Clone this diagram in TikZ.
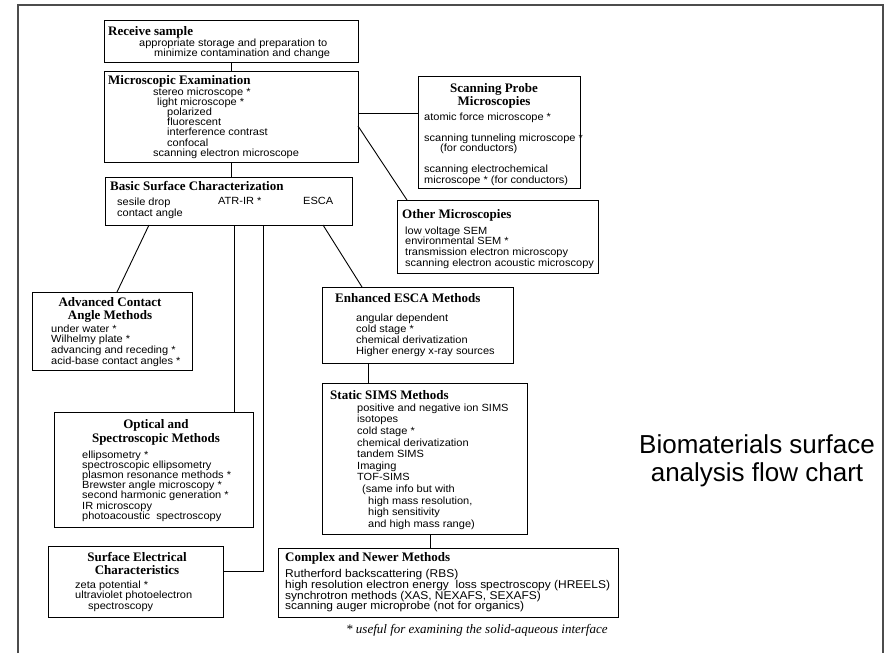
\documentclass[tikz,border=0pt]{standalone}
\usepackage{fontspec}
\setmainfont{Liberation Serif}
\newfontfamily\bodyfont{Liberation Sans}[FakeStretch=1.06]
\newfontfamily\bigfont{Liberation Sans}

\begin{document}
\begin{tikzpicture}[x=1pt,y=-1pt,
  box/.style={draw,line width=1pt,anchor=north west,inner sep=0pt,outer sep=0pt},
  hd/.style={anchor=north west,inner sep=0pt,font=\bfseries\fontsize{13}{12}\selectfont},
  hdc/.style={anchor=north,inner sep=0pt,align=center,font=\bfseries\fontsize{13}{12.5}\selectfont},
  txt/.style={anchor=north west,inner sep=0pt,align=left,font=\bodyfont\fontsize{10.4}{10.4}\selectfont},
  link/.style={line width=0.9pt}]
\useasboundingbox (0,0) rectangle (888,653);
\draw[gray!60!black,line width=1.5pt] (18,653) |- (883,5) -- (883,653);
% boxes
\node[box,minimum width=254pt,minimum height=42pt] (rs) at (104,20) {};
\node[box,minimum width=254pt,minimum height=91pt] (me) at (104,71) {};
\node[box,minimum width=247pt,minimum height=48pt] (bsc) at (105,177) {};
\node[box,minimum width=162pt,minimum height=112pt] (spm) at (418,76) {};
\node[box,minimum width=201pt,minimum height=73pt] (om) at (397,200) {};
\node[box,minimum width=160pt,minimum height=78pt] (aca) at (32,292) {};
\node[box,minimum width=191pt,minimum height=76pt] (ee) at (322,287) {};
\node[box,minimum width=205pt,minimum height=151pt] (ss) at (322,383) {};
\node[box,minimum width=199pt,minimum height=115pt] (osm) at (54,412) {};
\node[box,minimum width=175pt,minimum height=71pt] (sec) at (48,546) {};
\node[box,minimum width=340pt,minimum height=69pt] (cnm) at (278,548) {};
% texts
\node[hd] (rs-t) at (108,26.4) {Receive sample};
\node[txt,font=\bodyfont\fontsize{10.4}{10}\selectfont] (rs-b) at (139,38.5)
  {appropriate storage and preparation to\\\hspace{15pt}minimize contamination and change};
\node[hd] (me-t) at (108,75.4) {Microscopic Examination};
\node[txt,font=\bodyfont\fontsize{10.4}{10.17}\selectfont] (me-b) at (153,87.5)
  {stereo microscope *\\\hspace{4pt}light microscope *\\\hspace{14pt}polarized\\
   \hspace{14pt}fluorescent\\\hspace{14pt}interference contrast\\\hspace{14pt}confocal\\
   scanning electron microscope};
\node[hd] (bsc-t) at (110,181.4) {Basic Surface Characterization};
\node[txt,font=\bodyfont\fontsize{10.4}{11}\selectfont] (bsc-a) at (117,197.5) {sesile drop\\contact angle};
\node[txt] (bsc-b) at (218,197.5) {ATR-IR *};
\node[txt] (bsc-c) at (303,197.5) {ESCA};
\node[hdc] (spm-t) at (494,83.4) {Scanning Probe\\Microscopies};
\node[txt,font=\bodyfont\fontsize{10.4}{10.5}\selectfont] (spm-b) at (424,112.5)
  {atomic force microscope *\\[10.5pt]scanning tunneling microscope *\\\hspace{16pt}(for conductors)\\[10.5pt]
   scanning electrochemical\\microscope * (for conductors)};
\node[hd] (om-t) at (402,209.4) {Other Microscopies};
\node[txt,font=\bodyfont\fontsize{10.4}{10.7}\selectfont] (om-b) at (405,226.5)
  {low voltage SEM\\environmental SEM *\\transmission electron microscopy\\scanning electron acoustic microscopy};
\node[hdc] (aca-t) at (110,297.4) {Advanced Contact\\Angle Methods};
\node[txt,font=\bodyfont\fontsize{10.4}{10.7}\selectfont] (aca-b) at (51,324.5)
  {under water *\\Wilhelmy plate *\\advancing and receding *\\acid-base contact angles *};
\node[hd] (ee-t) at (335,293.4) {Enhanced ESCA Methods};
\node[txt,font=\bodyfont\fontsize{10.4}{11}\selectfont] (ee-b) at (356,313.5)
  {angular dependent\\cold stage *\\chemical derivatization\\Higher energy x-ray sources};
\node[hd] (ss-t) at (330,390.4) {Static SIMS Methods};
\node[txt,font=\bodyfont\fontsize{10.4}{11.6}\selectfont] (ss-b) at (357,403.5)
  {positive and negative ion SIMS\\isotopes\\cold stage *\\chemical derivatization\\tandem SIMS\\
   Imaging\\TOF-SIMS\\\hspace{5pt}(same info but with\\\hspace{11pt}high mass resolution,\\
   \hspace{11pt}high sensitivity\\\hspace{11pt}and high mass range)};
\node[hdc,font=\bfseries\fontsize{13}{14}\selectfont] (osm-t) at (156,419.4) {Optical and\\Spectroscopic Methods};
\node[txt,font=\bodyfont\fontsize{10.4}{10.17}\selectfont] (osm-b) at (82,450.5)
  {ellipsometry *\\spectroscopic ellipsometry\\plasmon resonance methods *\\Brewster angle microscopy *\\
   second harmonic generation *\\IR microscopy\\photoacoustic\ \ spectroscopy};
\node[hdc,font=\bfseries\fontsize{13}{13}\selectfont] (sec-t) at (137,552.4) {Surface Electrical\\Characteristics};
\node[txt,font=\bodyfont\fontsize{10.4}{10.5}\selectfont] (sec-b) at (75,580.5)
  {zeta potential *\\ultraviolet photoelectron\\\hspace{13pt}spectroscopy};
\node[hd] (cnm-t) at (285,552.4) {Complex and Newer Methods};
\node[txt,font=\bodyfont\fontsize{11.3}{10.6}\selectfont] (cnm-b) at (285,569.5)
  {Rutherford backscattering (RBS)\\high resolution electron energy\ \ loss spectroscopy (HREELS)\\
   synchrotron methods (XAS, NEXAFS, SEXAFS)\\scanning auger microprobe (not for organics)};
\node[anchor=west,inner sep=0pt,font=\itshape\fontsize{13}{14}\selectfont] (note) at (346,630)
  {* useful for examining the solid-aqueous interface};
\node[align=center,inner sep=0pt,font=\bigfont\fontsize{26}{28}\selectfont] (title) at (757,461)
  {Biomaterials surface\\analysis flow chart};
% connectors
\coordinate (spm-in) at ([yshift=-37pt]spm.north west);
\coordinate (bsc-1) at ([xshift=44pt]bsc.south west);
\coordinate (bsc-2) at ([xshift=129pt]bsc.south west);
\coordinate (bsc-3) at ([xshift=158pt]bsc.south west);
\coordinate (bsc-4) at ([xshift=218pt]bsc.south west);
\coordinate (ee-out) at ([xshift=46pt]ee.south west);
\coordinate (ss-out) at ([xshift=108pt]ss.south west);
\draw[link] (rs.south) -- (me.north);
\draw[link] (me.south) -- (me.south |- bsc.north);
\draw[link] (me.east |- spm-in) -- (spm-in);
\draw[link] ([yshift=-55pt]me.north east) -- ([xshift=10pt]om.north west);
\draw[link] (bsc-1) -- ([xshift=85pt]aca.north west);
\draw[link] (bsc-2) -- (bsc-2 |- osm.north);
\draw[link] (bsc-3) |- ([yshift=-25pt]sec.north east);
\draw[link] (bsc-4) -- ([xshift=40pt]ee.north west);
\draw[link] (ee-out) -- (ee-out |- ss.north);
\draw[link] (ss-out) -- (ss-out |- cnm.north);
\end{tikzpicture}
\end{document}
